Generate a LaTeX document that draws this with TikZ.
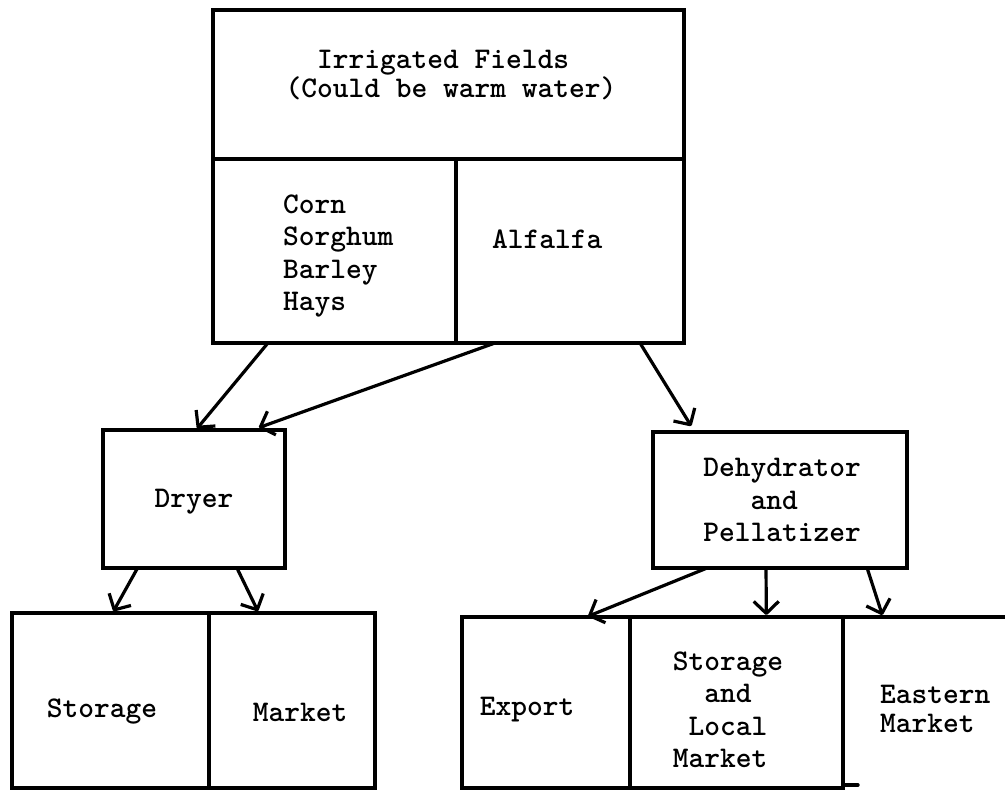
\documentclass[tikz,border=0pt]{standalone}
\usepackage{fontspec}
\usetikzlibrary{arrows.meta,calc}
\begin{document}
\begin{tikzpicture}[x=1pt,y=-1pt,
  cell/.style={draw, line width=3.4pt, rectangle, inner sep=0pt, outer sep=0pt, anchor=north west},
  blank/.style={rectangle, inner sep=0pt, outer sep=0pt, anchor=north west},
  edge/.style={line width=3.4pt, line cap=round, line join=round},
  lbl/.style={font=\ttfamily\bfseries\fontsize{30}{32.5}\selectfont, inner sep=0pt},
  flow/.style={line width=3.2pt, line cap=round, -{Straight Barb[length=12pt,width=25pt,line join=round]}}
]
\useasboundingbox[fill=white] (0,0) rectangle (1005,790);

% top block
\node[cell, minimum width=471pt, minimum height=149pt] (head) at (213,10) {};
\node[cell, minimum width=243pt, minimum height=184pt] (crops) at (213,159) {};
\node[cell, minimum width=228pt, minimum height=184pt] (alf) at (456,159) {};

% middle
\node[cell, minimum width=182pt, minimum height=138pt] (dryer) at (103,430) {};
\node[cell, minimum width=254pt, minimum height=136pt] (dehy) at (653,432) {};

% bottom left
\node[cell, minimum width=197pt, minimum height=175pt] (storeL) at (12,613) {};
\node[cell, minimum width=166pt, minimum height=175pt] (marketL) at (209,613) {};

% bottom right
\node[cell, minimum width=168pt, minimum height=171pt] (export) at (462,617) {};
\node[cell, minimum width=213pt, minimum height=171pt] (storeloc) at (630,617) {};
\node[blank, minimum width=170pt, minimum height=168pt] (eastern) at (843,617) {};
\draw[edge] (eastern.north east) -- (eastern.north west) -- (eastern.south west) -- ++(15,0);

% labels
\node[lbl, font=\ttfamily\bfseries\fontsize{30}{25}\selectfont, align=left] (tHead) at (451,75)
  {\hphantom{xx}Irrigated Fields\\(Could be warm water)};
\node[lbl, align=left, anchor=west] (tCrops) at (283,256) {Corn\\Sorghum\\Barley\\Hays};
\node[lbl, anchor=west] (tAlf) at (492,239) {Alfalfa};
\node[lbl] (tDryer) at (194,502) {Dryer};
\node[lbl, align=left] (tDehy) at (782,500) {Dehydrator\\\hphantom{Deh}and\\Pellatizer};
\node[lbl] (tStoreL) at (102,712) {Storage};
\node[lbl] (tMarketL) at (300,712) {Market};
\node[lbl] (tExport) at (527,710) {Export};
\node[lbl, align=left] (tStoreLoc) at (728,710) {Storage\\\hphantom{an}and\\\hphantom{L}Local\\Market};
\node[lbl, font=\ttfamily\bfseries\fontsize{30}{29}\selectfont, align=left, anchor=west] (tEast) at (880,709) {Eastern\\Market};

% connectors
\draw[flow, shorten >=2pt] ($(crops.south west)!0.226!(crops.south east)$) -- ($(dryer.north west)!0.51!(dryer.north east)$);
\draw[flow, shorten >=7pt] ($(alf.south west)!0.171!(alf.south east)$) -- ($(dryer.north west)!0.82!(dryer.north east)$);
\draw[flow, shorten >=7pt] ($(alf.south west)!0.807!(alf.south east)$) -- ($(dehy.north west)!0.165!(dehy.north east)$);
\draw[flow, shorten >=2pt] ($(dryer.south west)!0.19!(dryer.south east)$) -- ($(storeL.north west)!0.51!(storeL.north east)$);
\draw[flow, shorten >=2pt] ($(dryer.south west)!0.736!(dryer.south east)$) -- ($(marketL.north west)!0.30!(marketL.north east)$);
\draw[flow, shorten >=2pt] ($(dehy.south west)!0.213!(dehy.south east)$) -- ($(export.north west)!0.74!(export.north east)$);
\draw[flow, shorten >=2pt] ($(dehy.south west)!0.445!(dehy.south east)$) -- ($(storeloc.north west)!0.64!(storeloc.north east)$);
\draw[flow, shorten >=2pt] ($(dehy.south west)!0.843!(dehy.south east)$) -- ($(eastern.north west)!0.235!(eastern.north east)$);
\end{tikzpicture}
\end{document}
